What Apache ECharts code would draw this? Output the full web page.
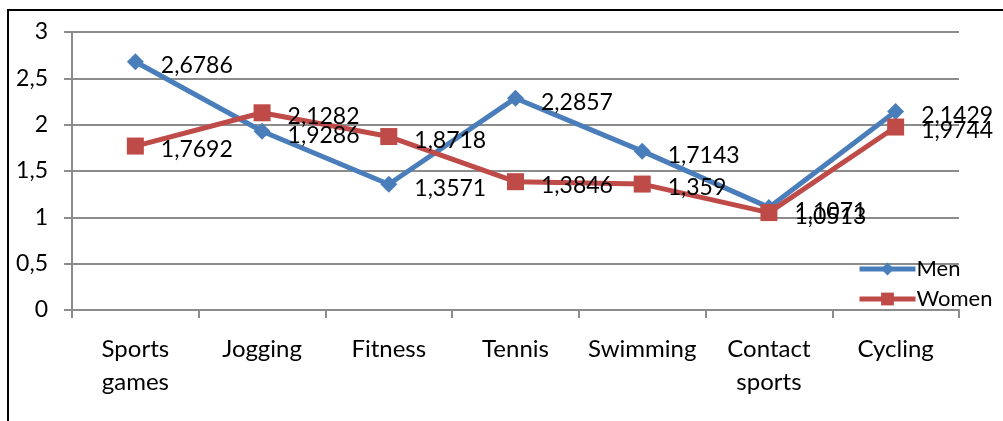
<!DOCTYPE html>
<html>
<head>
<meta charset="utf-8">
<script src="https://cdn.jsdelivr.net/npm/echarts@6/dist/echarts.min.js"></script>
<style>
  html, body { margin: 0; padding: 0; background: #fff; }
  #chart { width: 1003px; height: 421px; }
</style>
</head>
<body>
<div id="chart"></div>
<script>
// 数据
var categories = ['Sports\ngames', 'Jogging', 'Fitness', 'Tennis', 'Swimming', 'Contact\nsports', 'Cycling'];
var men = [2.6786, 1.9286, 1.3571, 2.2857, 1.7143, 1.1071, 2.1429];
var women = [1.7692, 2.1282, 1.8718, 1.3846, 1.359, 1.0513, 1.9744];

var font = 'Lato';
var gray = '#8c8c8c';

function comma(v) {
  return String(v).replace('.', ',');
}

function getLineChart() {
  let chart = echarts.init(document.getElementById('chart'));
  let labelStyle = {
    show: true,
    position: 'right',
    distance: 17,
    offset: [0, 4],
    color: '#000',
    fontFamily: font,
    fontSize: 23,
    formatter: function (p) { return comma(p.value); }
  };
  let option = {
    animation: false,
    textStyle: { fontFamily: font },
    // 外框
    graphic: [{
      type: 'rect',
      shape: { x: 8, y: 10, width: 1100, height: 600 },
      style: { fill: 'none', stroke: '#000', lineWidth: 2 },
      silent: true
    }],
    grid: { left: 72, right: 44, top: 32, bottom: 111 },
    legend: {
      orient: 'vertical',
      left: 852,
      top: 253,
      itemWidth: 56,
      itemHeight: 16,
      itemGap: 8,
      lineStyle: { width: 5 },
      textStyle: { fontFamily: font, fontSize: 22, color: '#000', padding: [0, 0, 0, -4] },
      data: ['Men', 'Women']
    },
    xAxis: {
      type: 'category',
      data: categories,
      boundaryGap: true,
      axisLine: { show: true, lineStyle: { color: gray, width: 2 } },
      axisTick: { show: true, length: 8, lineStyle: { color: gray, width: 2 } },
      axisLabel: {
        color: '#000', fontFamily: font, fontSize: 24, lineHeight: 33, margin: 23,
        interval: 0
      }
    },
    yAxis: {
      type: 'value',
      min: 0,
      max: 3,
      interval: 0.5,
      axisLine: { show: true, lineStyle: { color: gray, width: 2 } },
      axisTick: { show: true, length: 8, lineStyle: { color: gray, width: 2 } },
      splitLine: { show: true, lineStyle: { color: gray, width: 2 } },
      axisLabel: {
        color: '#000', fontFamily: font, fontSize: 23, margin: 24,
        formatter: function (v) { return comma(v); }
      }
    },
    series: [{
      name: 'Men',
      type: 'line',
      data: men,
      symbol: 'diamond',
      symbolSize: 17,
      lineStyle: { color: '#4a7ebb', width: 5 },
      itemStyle: { color: '#4a7ebb' },
      label: labelStyle
    }, {
      name: 'Women',
      type: 'line',
      data: women,
      symbol: 'rect',
      symbolSize: 17,
      lineStyle: { color: '#be4b48', width: 5 },
      itemStyle: { color: '#be4b48' },
      label: labelStyle
    }]
  };
  chart.setOption(option);
}

getLineChart();
</script>
</body>
</html>
